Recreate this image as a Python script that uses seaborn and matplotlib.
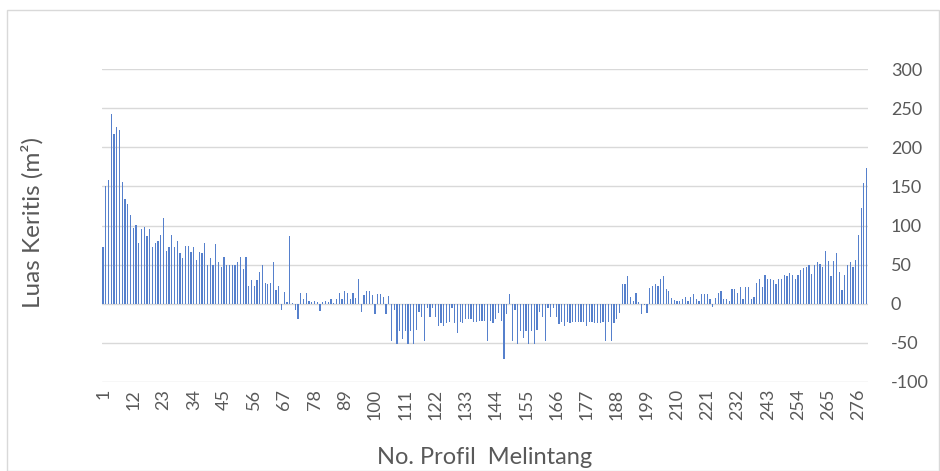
import numpy as np
import pandas as pd
import matplotlib
matplotlib.use("Agg")
import matplotlib.pyplot as plt
import seaborn as sns

profil = list(range(1, 280))
luas = [
    73, 150, 158, 243, 217, 226, 222, 155, 134, 127,
    114, 97, 101, 77, 95, 98, 86, 96, 73, 77,
    80, 88, 110, 68, 73, 88, 73, 80, 65, 58,
    74, 74, 66, 73, 56, 66, 65, 77, 50, 58,
    49, 76, 53, 47, 60, 50, 49, 50, 50, 53,
    60, 45, 60, 23, 30, 23, 30, 40, 50, 27,
    25, 27, 53, 17, 23, -8, 15, 2, 86, 1,
    -8, -20, 14, 6, 14, 3, 2, 3, 2, -9,
    2, 3, 2, 6, 1, 6, 14, 6, 16, 14,
    6, 14, 7, 32, -10, 11, 16, 16, 11, -13,
    13, 13, 9, -13, 10, -48, -8, -51, -35, -45,
    -35, -51, -35, -51, -33, -11, -17, -47, -5, -17,
    -5, -17, -29, -25, -28, -25, -23, -5, -25, -38,
    -23, -25, -20, -20, -20, -23, -23, -22, -22, -22,
    -47, -22, -25, -20, -12, -22, -71, -13, 12, -48,
    -8, -51, -35, -44, -35, -51, -35, -51, -33, -11,
    -17, -47, -5, -17, -5, -17, -26, -23, -28, -23,
    -25, -23, -23, -23, -23, -23, -28, -23, -23, -24,
    -25, -25, -23, -47, -23, -47, -25, -20, -12, 25,
    25, 36, 9, 3, 14, 2, -13, -1, -12, 20,
    23, 25, 23, 31, 36, 19, 16, 7, 5, 4,
    4, 6, 8, 4, 8, 12, 6, 4, 12, 12,
    12, 6, -4, 7, 14, 16, 6, 6, 4, 19,
    19, 14, 22, 6, 22, 22, 6, 9, 27, 31,
    22, 37, 31, 31, 30, 25, 31, 32, 37, 35,
    39, 37, 32, 37, 43, 46, 47, 49, 38, 50,
    53, 51, 47, 67, 55, 35, 55, 65, 41, 17,
    37, 50, 53, 47, 56, 88, 123, 154, 173,
]
tick_labels = list(range(1, 280, 11))
y_ticks = [-100, -50, 0, 50, 100, 150, 200, 250, 300]

df = pd.DataFrame({"profil": profil, "luas": luas})

sns.set_theme(style="white")
plt.rcParams["font.family"] = ["Lato", "DejaVu Sans"]

fig = plt.figure(figsize=(9.4, 4.71), dpi=100)
ax = fig.add_axes([101.7 / 940, 89 / 471, (868 - 101.7) / 940, 313 / 471])

for v in y_ticks:
    ax.axhline(v, color="#d9d9d9", lw=1.0, zorder=0)

sns.barplot(data=df, x="profil", y="luas", native_scale=True, width=0.45,
            color="#5680cc", linewidth=0, ax=ax, saturation=1, zorder=2)

ax.set_xlim(0.5, 279.5)
ax.set_ylim(-100, 300)
ax.set_xticks(tick_labels)
ax.set_xticklabels([str(t) for t in tick_labels], rotation=90,
                   fontsize=13, color="#595959")
ax.yaxis.tick_right()
ax.set_yticks(y_ticks)
ax.set_yticklabels([str(t) for t in y_ticks], fontsize=13, color="#595959")
ax.tick_params(axis="both", length=0)
ax.tick_params(axis="y", pad=16.5)
ax.tick_params(axis="x", pad=5)
for s in ax.spines.values():
    s.set_visible(False)
ax.set_xlabel("")
ax.set_ylabel("")

fig.text(485 / 940, 1 - 458 / 471, "No. Profil  Melintang", ha="center",
         va="center", fontsize=17, color="#595959")
fig.text(32 / 940, 1 - 222 / 471, "Luas Keritis (m²)", ha="center",
         va="center", rotation=90, fontsize=17.5, color="#595959")

border = plt.Rectangle((7 / 940, 0), 1 - 7 / 940 - 1 / 940, 1 - 10 / 471,
                       transform=fig.transFigure, fill=False,
                       edgecolor="#d9d9d9", lw=1)
fig.add_artist(border)

fig.savefig("out.png", dpi=100)
